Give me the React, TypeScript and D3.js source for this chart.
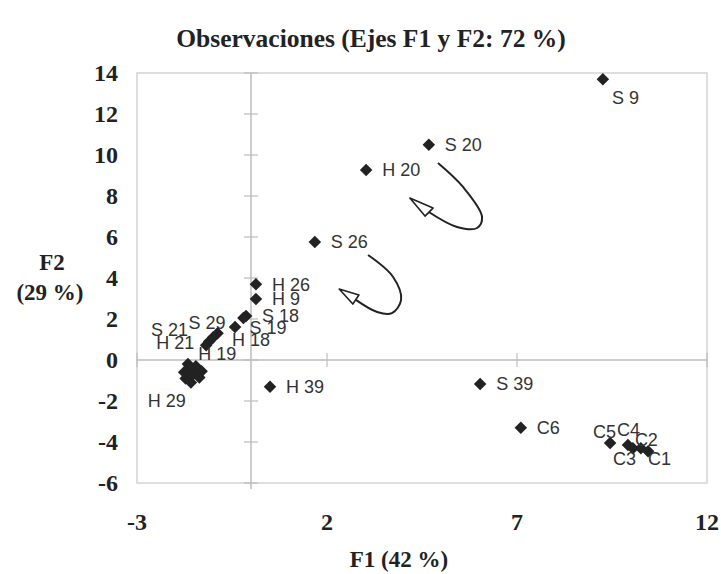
import React, { useEffect, useRef } from "react";
import * as d3 from "d3";

const names = [
  "S 9", "S 20", "H 20", "S 26", "H 26", "H 9", "S 18", "S 19", "H 18",
  "S 29", "S 21", "H 21", "H 19", "H 29", "", "", "", "", "", "", "", "",
  "H 39", "S 39", "C6", "C5", "C4", "C3", "C2", "C1",
];
const f1 = [
  9.26, 4.68, 3.03, 1.68, 0.13, 0.13, -0.13, -0.2, -0.42,
  -0.88, -1.0, -1.1, -1.18, -1.72, -1.66, -1.45, -1.3, -1.76, -1.52, -1.36, -1.58, -1.62,
  0.5, 6.03, 7.1, 9.45, 9.92, 10.05, 10.26, 10.45,
];
const f2 = [
  13.7, 10.5, 9.27, 5.76, 3.7, 2.98, 2.15, 2.05, 1.61,
  1.3, 1.1, 0.9, 0.72, -0.9, -0.2, -0.3, -0.55, -0.6, -0.7, -0.85, -1.1, -0.35,
  -1.3, -1.17, -3.3, -4.05, -4.15, -4.3, -4.3, -4.45,
];

const xTicks = [-3, 2, 7, 12];
const yTicks = [-6, -4, -2, 0, 2, 4, 6, 8, 10, 12, 14];

// curved annotation arrows, in F1/F2 units
const arrow1 = [[4.92, 9.61], [5.58, 8.44], [6.08, 6.98], [5.95, 6.44], [5.42, 6.49], [4.68, 7.22]];
const head1 = [[4.18, 7.9], [4.79, 7.41], [4.58, 7.02]];
const arrow2 = [[3.08, 5.12], [3.74, 4.05], [3.95, 2.93], [3.71, 2.29], [3.32, 2.34], [2.76, 2.93]];
const head2 = [[2.32, 3.46], [2.84, 3.17], [2.68, 2.73]];

// label placement relative to the marker (px)
const labelShift: Record<string, [number, number]> = {
  "S 9": [9, 18],
  "S 19": [6, 10],
  "H 18": [-3, 13],
  "S 29": [-29, -11],
  "S 21": [-62, -8],
  "H 21": [-53, 1],
  "H 19": [-8, 8],
  "H 29": [-38, 22],
  "C5": [-17, -12],
  "C4": [-11, -16],
  "C2": [-6, -9],
  "C3": [-20, 10],
  "C1": [0, 7],
};

export default function App() {
  const ref = useRef<SVGSVGElement>(null);

  useEffect(() => {
    const w = 721;
    const h = 574;
    const left = 137, right = 707, top = 73, bottom = 483;
    const svg = d3.select(ref.current);
    svg.selectAll("*").remove();

    const x = d3.scaleLinear().domain([-3, 12]).range([left, right]);
    const y = d3.scaleLinear().domain([-6, 14]).range([bottom, top]);

    svg.append("rect").attr("width", w).attr("height", h).attr("fill", "#fff");

    svg
      .append("rect")
      .attr("x", left)
      .attr("y", top)
      .attr("width", right - left)
      .attr("height", bottom - top)
      .attr("fill", "none")
      .attr("stroke", "#d4d4d4")
      .attr("stroke-width", 1.5);

    // zero axes with crossing ticks
    const axisColor = "#bdbdbd";
    svg.append("line").attr("x1", x(0)).attr("x2", x(0)).attr("y1", top).attr("y2", bottom + 6)
      .attr("stroke", axisColor).attr("stroke-width", 1.5);
    svg.append("line").attr("x1", left).attr("x2", right).attr("y1", y(0)).attr("y2", y(0))
      .attr("stroke", axisColor).attr("stroke-width", 1.5);
    svg.selectAll(".ytk").data(yTicks).enter().append("line")
      .attr("x1", x(0) - 7).attr("x2", x(0) + 7)
      .attr("y1", d => y(d)).attr("y2", d => y(d))
      .attr("stroke", axisColor).attr("stroke-width", 1.2);
    svg.selectAll(".xtk").data(xTicks).enter().append("line")
      .attr("x1", d => x(d)).attr("x2", d => x(d))
      .attr("y1", y(0) - 7).attr("y2", y(0) + 7)
      .attr("stroke", axisColor).attr("stroke-width", 1.2);

    const serif = "'Liberation Serif', 'Times New Roman', serif";

    svg.selectAll(".ylab").data(yTicks).enter().append("text")
      .attr("x", 118).attr("y", d => y(d)).attr("dy", "0.35em")
      .attr("text-anchor", "end")
      .attr("font-family", serif).attr("font-weight", "bold").attr("font-size", 24)
      .attr("fill", "#222")
      .text(d => d);

    svg.selectAll(".xlab").data(xTicks).enter().append("text")
      .attr("x", d => x(d)).attr("y", 522).attr("dy", "0.35em")
      .attr("text-anchor", "middle")
      .attr("font-family", serif).attr("font-weight", "bold").attr("font-size", 24)
      .attr("fill", "#222")
      .text(d => d);

    svg.append("text").attr("x", 371).attr("y", 47).attr("text-anchor", "middle")
      .attr("font-family", serif).attr("font-weight", "bold").attr("font-size", 25.5)
      .attr("fill", "#222")
      .text("Observaciones (Ejes F1 y F2: 72 %)");

    svg.append("text").attr("x", 399).attr("y", 567).attr("text-anchor", "middle")
      .attr("font-family", serif).attr("font-weight", "bold").attr("font-size", 23)
      .attr("fill", "#222")
      .text("F1 (42 %)");

    const f2lab = svg.append("text").attr("text-anchor", "middle")
      .attr("font-family", serif).attr("font-weight", "bold").attr("font-size", 23)
      .attr("fill", "#222");
    f2lab.append("tspan").attr("x", 52).attr("y", 270).text("F2");
    f2lab.append("tspan").attr("x", 50).attr("y", 300).text("(29 %)");

    // arrows
    const line = d3.line<number[]>().x(d => x(d[0])).y(d => y(d[1])).curve(d3.curveCatmullRom);
    [[arrow1, head1], [arrow2, head2]].forEach(([path, head]) => {
      svg.append("path").attr("d", line(path)).attr("fill", "none")
        .attr("stroke", "#222").attr("stroke-width", 2);
      svg.append("path").attr("d", d3.line<number[]>().x(d => x(d[0])).y(d => y(d[1]))(head) + "Z")
        .attr("fill", "#fff").attr("stroke", "#222").attr("stroke-width", 1.6)
        .attr("stroke-linejoin", "round");
    });

    const pts = names.map((n, i) => ({ n, a: f1[i], b: f2[i] }));

    svg.selectAll(".pt").data(pts).enter().append("path")
      .attr("d", d3.symbol().type(d3.symbolDiamond2).size(100)())
      .attr("transform", d => `translate(${x(d.a)},${y(d.b)})`)
      .attr("fill", "#222");

    svg.selectAll(".lbl").data(pts.filter(d => d.n !== "")).enter().append("text")
      .attr("x", d => x(d.a) + (labelShift[d.n] ? labelShift[d.n][0] : 16))
      .attr("y", d => y(d.b) + (labelShift[d.n] ? labelShift[d.n][1] : 0))
      .attr("dy", "0.36em")
      .attr("font-family", "'Liberation Sans', Arial, sans-serif")
      .attr("font-size", 18)
      .attr("fill", "#333")
      .text(d => d.n);
  }, []);

  return (
    <svg
      ref={ref}
      width={721}
      height={574}
      style={{ position: "absolute", left: 0, top: 0 }}
    />
  );
}
